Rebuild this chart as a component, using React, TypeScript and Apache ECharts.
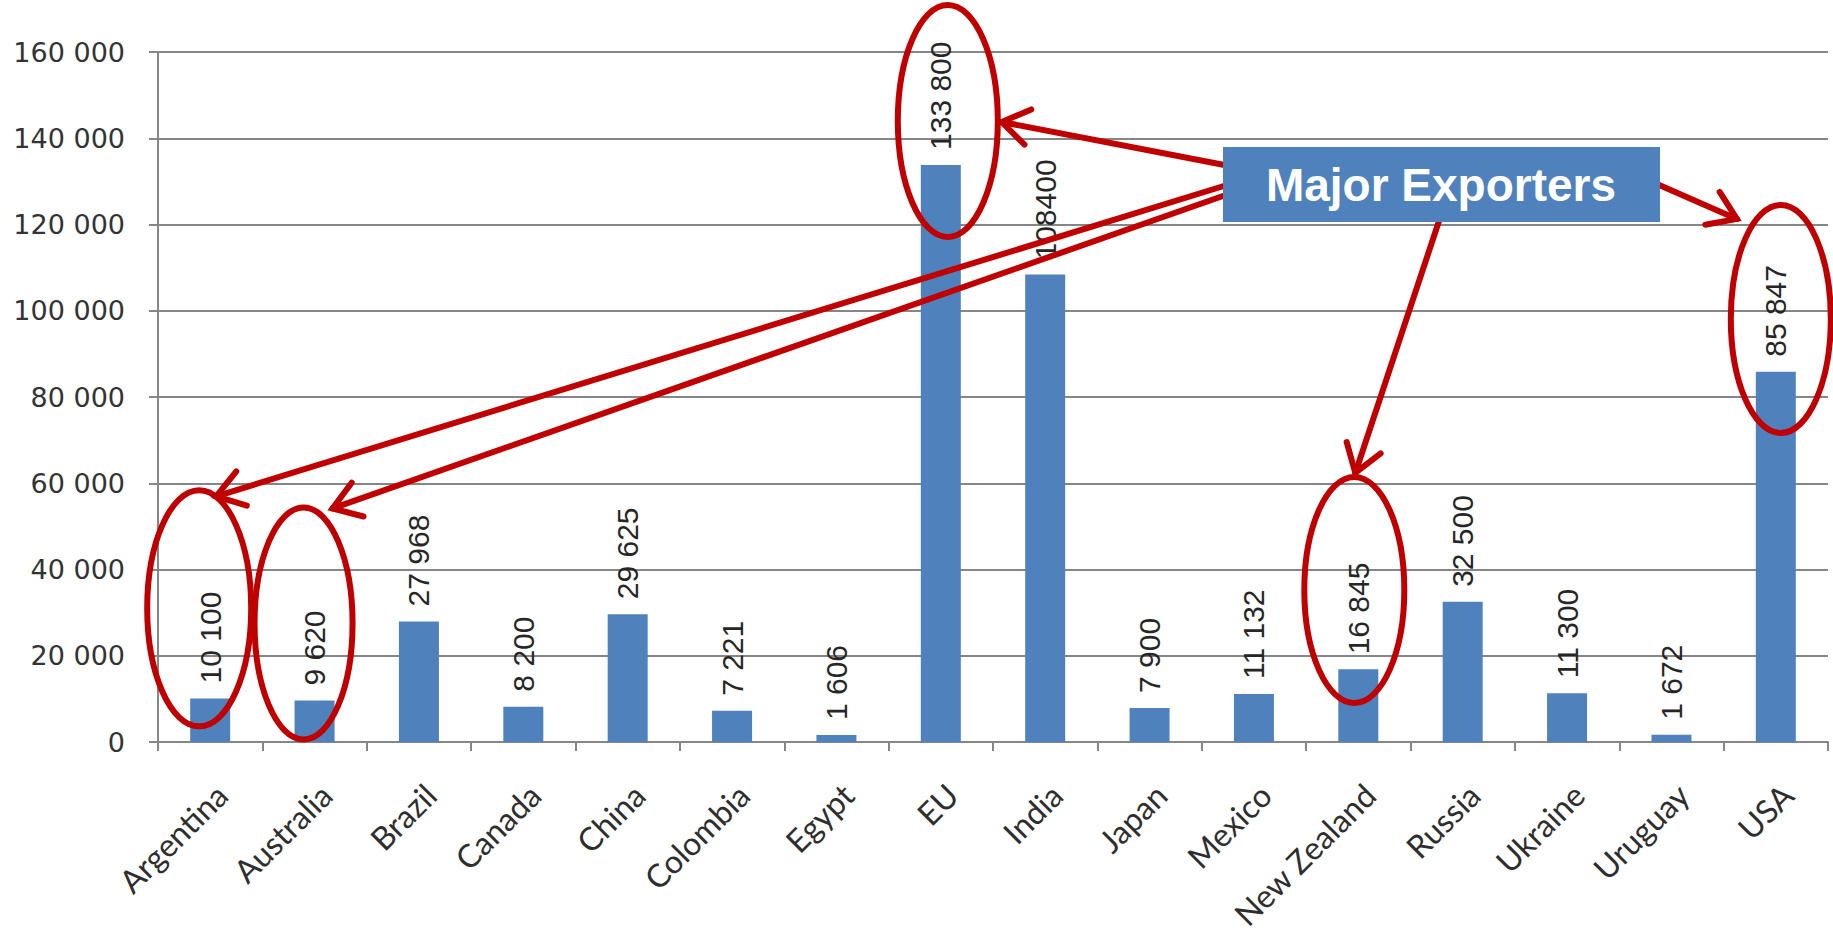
import React, { useEffect, useRef } from "react";
import * as echarts from "echarts";

const categories = [
  "Argentina", "Australia", "Brazil", "Canada", "China", "Colombia", "Egypt", "EU",
  "India", "Japan", "Mexico", "New Zealand", "Russia", "Ukraine", "Uruguay", "USA",
];
const values = [
  10100, 9620, 27968, 8200, 29625, 7221, 1606, 133800,
  108400, 7900, 11132, 16845, 32500, 11300, 1672, 85847,
];
const valueLabels = [
  "10 100", "9 620", "27 968", "8 200", "29 625", "7 221", "1 606", "133 800",
  "108400", "7 900", "11 132", "16 845", "32 500", "11 300", "1 672", "85 847",
];
const yMin = 0;
const yMax = 160000;
const yInterval = 20000;
const calloutText = "Major Exporters";
// highlighted exporters: category index and the value at the ellipse centre
const highlightCats = [0, 1, 7, 11, 15];
const highlightCenterValues = [31000, 27500, 144000, 35250, 98100];

const RED = "#C00000";

function fmt(v: number) {
  return String(v).replace(/\B(?=(\d{3})+(?!\d))/g, " ");
}

export default function App() {
  const ref = useRef<HTMLDivElement>(null);
  useEffect(() => {
    if (!ref.current) return;
    const chart = echarts.init(ref.current, undefined, { renderer: "svg" });
    chart.setOption({
      animation: false,
      backgroundColor: "#ffffff",
      grid: { left: 158, right: 5, top: 52, bottom: 191, containLabel: false, outerBoundsMode: "none" },
      xAxis: {
        type: "category",
        data: categories,
        axisLine: { lineStyle: { color: "#868686", width: 2 } },
        axisTick: { show: true, length: 9, lineStyle: { color: "#868686", width: 2 } },
        axisLabel: {
          interval: 0,
          rotate: 45,
          margin: 36,
          verticalAlign: "top",
          fontFamily: "Lato",
          fontSize: 32,
          color: "#2e2e2e",
        },
      },
      yAxis: {
        type: "value",
        min: yMin,
        max: yMax,
        interval: yInterval,
        axisLine: { show: true, lineStyle: { color: "#868686", width: 2 } },
        axisTick: { show: true, length: 9, lineStyle: { color: "#868686", width: 2 } },
        splitLine: { lineStyle: { color: "#868686", width: 2 } },
        axisLabel: {
          margin: 33,
          fontFamily: "DejaVu Sans",
          fontSize: 27,
          color: "#333333",
          formatter: (v: number) => fmt(v),
        },
      },
      series: [
        {
          type: "bar",
          data: values,
          barWidth: 40,
          itemStyle: { color: "#4F81BD" },
          label: {
            show: true,
            position: "top",
            rotate: 90,
            align: "left",
            verticalAlign: "middle",
            distance: 15,
            fontFamily: "Liberation Sans",
            fontSize: 30,
            color: "#262626",
            formatter: (p: any) => valueLabels[p.dataIndex],
          },
        },
      ],
    });

    const px = (ci: number, v: number) =>
      chart.convertToPixel({ xAxisIndex: 0, yAxisIndex: 0 }, [ci, v]) as number[];

    // ellipse geometry (pixels) relative to anchor
    const ellDx = [-11, -11, 7, -4, 5];
    const ellRx = [52, 49, 50, 50, 50];
    const ellRy = [118, 116, 116, 113, 114];
    const tipOff = [[17, -112], [29, -115], [54, 1], [1, -117], [-44, -100]];
    const starts = [[1240, 181], [1240, 190], [1240, 168], [1441, 215], [1650, 181]];

    const g: any[] = [];
    highlightCats.forEach((ci, i) => {
      const [x, y] = px(ci, highlightCenterValues[i]);
      const cx = x + ellDx[i];
      g.push({
        type: "ellipse",
        shape: { cx, cy: y, rx: ellRx[i], ry: ellRy[i] },
        style: { fill: "none", stroke: RED, lineWidth: 6 },
        z: 100,
      });
      const tx = cx + tipOff[i][0];
      const ty = y + tipOff[i][1];
      const [sx, sy] = starts[i];
      g.push({
        type: "line",
        shape: { x1: sx, y1: sy, x2: tx, y2: ty },
        style: { stroke: RED, lineWidth: 6, lineCap: "round" },
        z: 100,
      });
      const ang = Math.atan2(sy - ty, sx - tx);
      const L = 32;
      const a = (34 * Math.PI) / 180;
      g.push({
        type: "polyline",
        shape: {
          points: [
            [tx + L * Math.cos(ang + a), ty + L * Math.sin(ang + a)],
            [tx, ty],
            [tx + L * Math.cos(ang - a), ty + L * Math.sin(ang - a)],
          ],
        },
        style: { fill: "none", stroke: RED, lineWidth: 6, lineJoin: "miter", lineCap: "round" },
        z: 100,
      });
    });
    g.push({
      type: "rect",
      shape: { x: 1223, y: 147, width: 437, height: 75 },
      style: { fill: "#4F81BD" },
      z: 110,
    });
    g.push({
      type: "text",
      x: 1441,
      y: 185,
      style: {
        text: calloutText,
        fill: "#ffffff",
        fontSize: 46,
        fontWeight: "bold",
        fontFamily: "Liberation Sans",
        align: "center",
        verticalAlign: "middle",
        shadowColor: "rgba(0,0,0,0.35)",
        shadowOffsetX: 1,
        shadowOffsetY: 1,
        shadowBlur: 2,
      },
      z: 111,
    });
    chart.setOption({ graphic: g });

    return () => chart.dispose();
  }, []);
  return (
    <div
      ref={ref}
      style={{ position: "fixed", left: 0, top: 0, width: 1833, height: 933, background: "#fff" }}
    />
  );
}
